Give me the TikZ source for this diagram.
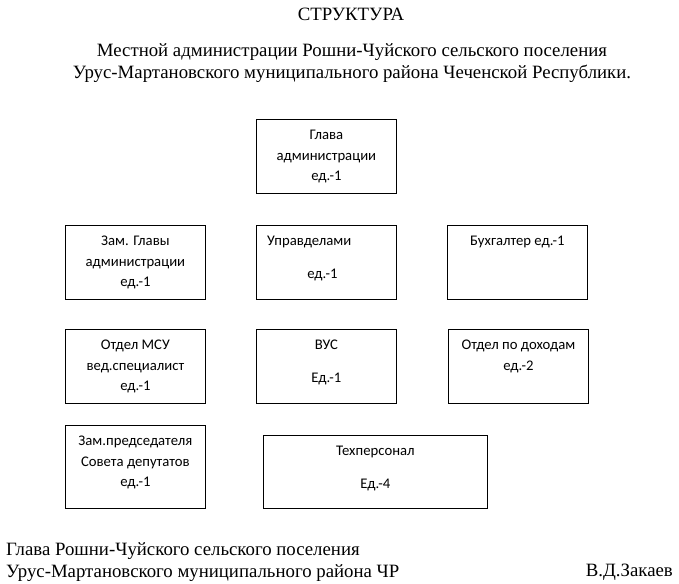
\documentclass[tikz,border=0pt]{standalone}
\usepackage{fontspec}
\setmainfont{Liberation Serif}
\newfontfamily\boxfont{Carlito}
\usetikzlibrary{positioning}

\begin{document}
\begin{tikzpicture}[x=1pt, y=-1pt,
        unit/.style={draw, line width=0.8pt, inner sep=0pt, minimum width=140pt, minimum height=74pt, anchor=north west},
        txt/.style={font=\boxfont\fontsize{14.7}{20.5}\selectfont, align=center, inner sep=0pt},
        head/.style={font=\fontsize{18.8}{22}\selectfont, align=center, inner sep=0pt},
        node distance=11pt
    ]
    \useasboundingbox (0,0) rectangle (679,583);

    % Heading
    \node[head] (title) at (351,14) {СТРУКТУРА};
    \node[head, anchor=north] (subtitle) at (352,43.5) {Местной администрации Рошни-Чуйского сельского поселения\\Урус-Мартановского муниципального района Чеченской Республики.};

    % Head of administration
    \node[unit] (glava) at (256,119) {};
    \node[txt, below=of glava.north] (glava-t) {Глава\\администрации\\ед.-1};

    % Second row
    \node[unit] (zam) at (65,225) {};
    \node[txt, below=of zam.north] (zam-t) {Зам. Главы\\администрации\\ед.-1};
    \node[unit] (uprav) at (256,225) {};
    \node[txt, below right=11pt and 11pt of uprav.north west] (uprav-t) {Управделами};
    \node[txt, below=44pt of uprav.north, xshift=-4pt] (uprav-e) {ед.-1};
    \node[unit] (buh) at (447,225) {};
    \node[txt, below=of buh.north] (buh-t) {Бухгалтер ед.-1};

    % Third row
    \node[unit] (msu) at (65,329) {};
    \node[txt, below=of msu.north] (msu-t) {Отдел МСУ\\вед.специалист\\ед.-1};
    \node[unit] (vus) at (256,329) {};
    \node[txt, below=of vus.north] (vus-t) {ВУС\\[12.5pt]Ед.-1};
    \node[unit] (dohod) at (448,329) {};
    \node[txt, below=of dohod.north] (dohod-t) {Отдел по доходам\\ед.-2};

    % Fourth row
    \node[unit, minimum height=83pt] (zampred) at (65,425) {};
    \node[txt, below=of zampred.north] (zampred-t) {Зам.председателя\\Совета депутатов\\ед.-1};
    \node[unit, minimum width=224pt, minimum height=73pt] (teh) at (263,435) {};
    \node[txt, below=of teh.north] (teh-t) {Техперсонал\\[12.5pt]Ед.-4};

    % Signature
    \node[head, align=left, anchor=north west] (sign) at (6,542.5) {Глава Рошни-Чуйского сельского поселения\\Урус-Мартановского муниципального района ЧР};
    \node[head, anchor=base east] (name) at (673,576) {В.Д.Закаев};

\end{tikzpicture}
\end{document}
